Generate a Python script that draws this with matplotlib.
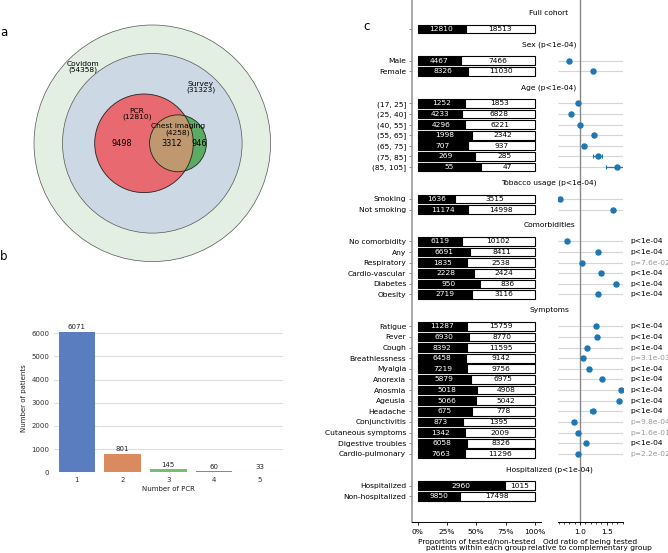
import numpy as np
import matplotlib
matplotlib.use("Agg")
import matplotlib.pyplot as plt
import matplotlib.transforms as mtransforms
from matplotlib.patches import Circle
from matplotlib.ticker import MultipleLocator, PercentFormatter
import seaborn as sns

# -------- data: panel a (venn) --------
covidom_n = 54358
survey_n = 31323
pcr_n = 12810
chest_n = 4258
pcr_only, pcr_chest, chest_only = 9498, 3312, 946

# -------- data: panel b --------
n_pcr = [1, 2, 3, 4, 5]
n_patients = [6071, 801, 145, 60, 33]

# -------- data: panel c --------
group_headers = ["Full cohort", "Sex (p<1e-04)", "Age (p<1e-04)", "Tobacco usage (p<1e-04)",
                 "Comorbidities", "Symptoms", "Hospitalized (p<1e-04)"]
group_sizes = [1, 2, 7, 2, 6, 13, 2]

row_labels = ["", "Male", "Female",
              "(17, 25]", "(25, 40]", "(40, 55]", "(55, 65]", "(65, 75]", "(75, 85]", "(85, 105]",
              "Smoking", "Not smoking",
              "No comorbidity", "Any", "Respiratory", "Cardio-vascular", "Diabetes", "Obesity",
              "Fatigue", "Fever", "Cough", "Breathlessness", "Myalgia", "Anorexia", "Anosmia",
              "Ageusia", "Headache", "Conjunctivitis", "Cutaneous symptoms", "Digestive troubles",
              "Cardio-pulmonary",
              "Hospitalized", "Non-hospitalized"]
tested = [12810, 4467, 8326,
          1252, 4233, 4296, 1998, 707, 269, 55,
          1636, 11174,
          6119, 6691, 1835, 2228, 950, 2719,
          11287, 6930, 8392, 6458, 7219, 5879, 5018, 5066, 675, 873, 1342, 6058, 7663,
          2960, 9850]
not_tested = [18513, 7466, 11030,
              1853, 6828, 6221, 2342, 937, 285, 47,
              3515, 14998,
              10102, 8411, 2538, 2424, 836, 3116,
              15759, 8770, 11595, 9142, 9756, 6975, 4908, 5042, 778, 1395, 2009, 8326, 11296,
              1015, 17498]
odds_ratio = [None, 0.80, 1.24,
              0.97, 0.84, 1.00, 1.26, 1.075, 1.33, 1.70,
              0.625, 1.61,
              0.76, 1.33, 1.04, 1.40, 1.675, 1.33,
              1.31, 1.32, 1.13, 1.06, 1.17, 1.41, 1.76, 1.74, 1.24, 0.89, 0.96, 1.11, 0.97,
              None, None]
or_err = [None, 0.02, 0.02,
          0.02, 0.02, 0.02, 0.03, 0.03, 0.08, 0.21,
          0.01, 0.03,
          0.02, 0.02, 0.02, 0.03, 0.04, 0.02,
          0.03, 0.02, 0.02, 0.02, 0.02, 0.02, 0.02, 0.02, 0.05, 0.03, 0.02, 0.02, 0.02,
          None, None]
pvals = [None] * 12 + ["p<1e-04", "p<1e-04", "p=7.6e-02", "p<1e-04", "p<1e-04", "p<1e-04",
                       "p<1e-04", "p<1e-04", "p<1e-04", "p=3.1e-03", "p<1e-04", "p<1e-04",
                       "p<1e-04", "p<1e-04", "p<1e-04", "p=9.8e-04", "p=1.6e-01", "p<1e-04",
                       "p=2.2e-02", None, None]

# -------- figure --------
W, H = 668, 553
fig = plt.figure(figsize=(W / 100, H / 100), dpi=100)


def px_axes(x0, y0, x1, y1):
    return fig.add_axes([x0 / W, 1 - y1 / H, (x1 - x0) / W, (y1 - y0) / H])


FS = 5.4

# -------- panel a --------
ax_a = px_axes(0, 0, 300, 290)
ax_a.set_xlim(0, 300)
ax_a.set_ylim(290, 0)
ax_a.axis("off")

k_out = 0.5074
k_in = 0.4356
cy = 143.3
r_cov = k_out * np.sqrt(covidom_n)
r_sur = k_out * np.sqrt(survey_n)
r_pcr = k_in * np.sqrt(pcr_n)
r_chest = k_in * np.sqrt(chest_n)
ec = "#555555"

ax_a.add_patch(Circle((152.3, cy), r_cov, fc="#e2efe2", ec=ec, lw=0.5))
ax_a.add_patch(Circle((152.3, cy), r_sur, fc="#ccd9e5", ec=ec, lw=0.5))
pcr_circ = Circle((144, cy), r_pcr, fc="#e8696f", ec="none")
ax_a.add_patch(pcr_circ)
ax_a.add_patch(Circle((178, cy), r_chest, fc="#5cab62", ec="none"))
ov = Circle((178, cy), r_chest, fc="#c0986f", ec="none")
ax_a.add_patch(ov)
ov.set_clip_path(pcr_circ)
ax_a.add_patch(Circle((144, cy), r_pcr, fc="none", ec="#222222", lw=0.6))
ax_a.add_patch(Circle((178, cy), r_chest, fc="none", ec="#222222", lw=0.6))

ax_a.text(83, 67, f"Covidom\n({covidom_n})", ha="center", va="center", fontsize=FS, linespacing=1.0)
ax_a.text(201, 87, f"Survey\n({survey_n})", ha="center", va="center", fontsize=FS, linespacing=1.0)
ax_a.text(136.7, 114, f"PCR\n({pcr_n})", ha="center", va="center", fontsize=FS, linespacing=1.0)
ax_a.text(177.7, 129.7, f"Chest imaging\n({chest_n})", ha="center", va="center", fontsize=FS, linespacing=1.0)
ax_a.text(122, cy, str(pcr_only), ha="center", va="center", fontsize=5.9)
ax_a.text(171.7, cy, str(pcr_chest), ha="center", va="center", fontsize=5.9)
ax_a.text(199.3, cy, str(chest_only), ha="center", va="center", fontsize=5.9)

# -------- panel b --------
ax_b = px_axes(54, 324.6, 282.5, 472.3)
pal = [sns.desaturate(c, 0.75) for c in sns.color_palette("muted")]
xb = np.arange(len(n_pcr))
ax_b.bar(xb, n_patients, width=0.8, color=pal[:len(n_pcr)], zorder=2)
for x, v in zip(xb, n_patients):
    ax_b.text(x, v + 60, str(v), ha="center", va="bottom", fontsize=5, color="#222222")
ax_b.set_xlim(-0.5, 4.5)
ax_b.set_ylim(0, 6375)
ax_b.set_yticks([0, 1000, 2000, 3000, 4000, 5000, 6000])
ax_b.set_xticks(xb)
ax_b.set_xticklabels([str(n) for n in n_pcr])
ax_b.grid(axis="y", color="#dddddd", lw=0.8, zorder=0)
ax_b.set_axisbelow(True)
for s in ax_b.spines.values():
    s.set_visible(False)
ax_b.tick_params(length=0, labelsize=5, pad=3.5, colors="#333333")
ax_b.set_xlabel("Number of PCR", fontsize=5, labelpad=2, color="#222222")
ax_b.set_ylabel("Number of patients", fontsize=5, labelpad=3, color="#222222")

# -------- panel c positions --------
ypos = []
header_pos = []
cur = 0.0
for gi, n in enumerate(group_sizes):
    header_pos.append(cur - 1.5)
    ypos.extend(cur + np.arange(n))
    cur = ypos[-1] + 3
ypos = np.array(ypos)

tested = np.array(tested)
not_tested = np.array(not_tested)
prop = tested / (tested + not_tested)

ylim = (46.45, -2.73)

# bar panel
ax_c = px_axes(411.7, 0, 540.7, 522.3)
ax_c.barh(ypos, prop, height=0.82, color="black", edgecolor="black", lw=0.8)
ax_c.barh(ypos, 1 - prop, left=prop, height=0.82, color="white", edgecolor="black", lw=0.8)
for y, p, t, nt in zip(ypos, prop, tested, not_tested):
    ax_c.text(p / 2, y, str(t), ha="center", va="center", color="white", fontsize=FS)
    ax_c.text(p + (1 - p) / 2, y, str(nt), ha="center", va="center", color="black", fontsize=FS)
ax_c.set_xlim(-0.05, 1.05)
ax_c.set_ylim(*ylim)
ax_c.set_yticks(ypos)
ax_c.set_yticklabels(row_labels)
ax_c.set_xticks([0, 0.25, 0.5, 0.75, 1.0])
ax_c.xaxis.set_major_formatter(PercentFormatter(1, decimals=0))
ax_c.tick_params(axis="y", length=2.5, width=0.6, color="#777777", labelsize=FS, pad=1.5)
ax_c.tick_params(axis="x", length=2.5, width=0.6, labelsize=FS, pad=2)
ax_c.spines["top"].set_visible(False)
ax_c.spines["right"].set_visible(False)
ax_c.spines["left"].set_color("#999999")
ax_c.spines["left"].set_linewidth(1.2)
ax_c.spines["bottom"].set_linewidth(0.7)
ax_c.set_xlabel("Proportion of tested/non-tested\npatients within each group", fontsize=FS,
                labelpad=3, linespacing=1.0)

# odds ratio panel
ax_o = px_axes(558, 0, 622.7, 522.3)
ax_o.set_xlim(0.59, 1.80)
ax_o.set_ylim(*ylim)
ax_o.axvline(1.0, color="#888888", lw=1, zorder=1)
has_or = [i for i, o in enumerate(odds_ratio) if o is not None]
ax_o.hlines(ypos[has_or], 0.59, 1.80, color="#d6d6d6", lw=0.8, zorder=0)
ax_o.errorbar([odds_ratio[i] for i in has_or], ypos[has_or], xerr=[or_err[i] for i in has_or],
              fmt="o", ms=3.6, color="#1f77b4", ecolor="#1f77b4", elinewidth=0.9, capsize=1.6,
              capthick=0.8, zorder=3)
for s in ["top", "right", "left"]:
    ax_o.spines[s].set_visible(False)
ax_o.spines["bottom"].set_linewidth(0.7)
ax_o.set_yticks([])
ax_o.set_xticks([1.0, 1.5])
ax_o.xaxis.set_minor_locator(MultipleLocator(0.1))
ax_o.tick_params(axis="x", which="major", length=2.5, width=0.6, labelsize=FS, pad=2)
ax_o.tick_params(axis="x", which="minor", length=1.5, width=0.5)
ax_o.set_xlabel("Odd ratio of being tested\nrelative to complementary group", fontsize=FS,
                labelpad=3, linespacing=1.0)

# headers and p-values
trans = mtransforms.blended_transform_factory(fig.transFigure, ax_c.transData)
for hp, ht in zip(header_pos, group_headers):
    fig.text(549 / W, hp, ht, transform=trans, ha="center", va="center", fontsize=FS)
for y, p in zip(ypos, pvals):
    if p is None:
        continue
    col = "black" if p.startswith("p<") else "#999999"
    fig.text(630 / W, y, p, transform=trans, ha="left", va="center", fontsize=FS, color=col)

# panel letters
fig.text(0 / W, 1 - 33 / H, "a", fontsize=8.5, va="center", ha="left")
fig.text(0 / W, 1 - 256.7 / H, "b", fontsize=8.5, va="center", ha="left")
fig.text(363 / W, 1 - 26.7 / H, "c", fontsize=8.5, va="center", ha="left")

fig.savefig("out.png", dpi=100)
